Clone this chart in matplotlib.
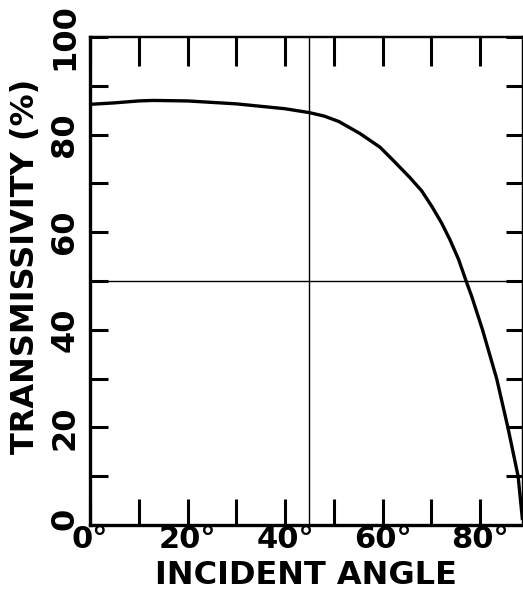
import matplotlib
matplotlib.use("Agg")
from matplotlib import pyplot as plt
from matplotlib.transforms import ScaledTranslation

angle = [0, 5, 10, 13, 20, 25, 30, 34, 40, 45, 48, 51, 55.4, 59.5, 62.2,
         65.6, 68, 70.1, 72.1, 73.8, 75.6, 77.1, 78.3, 80.5, 83.4, 85.7,
         87.8, 88.7]
transmissivity = [86.2, 86.5, 86.9, 87.0, 86.9, 86.6, 86.3, 85.9, 85.3, 84.5,
                  83.8, 82.7, 80.2, 77.4, 74.7, 71.2, 68.5, 65.3, 61.9, 58.5,
                  54.4, 50.1, 46.8, 40.0, 30.0, 20.0, 10.0, 1.0]

x_ticks = [0, 10, 20, 30, 40, 50, 60, 70, 80]
x_labels = ["0°", "", "20°", "", "40°", "", "60°", "", "80°"]
y_ticks = [0, 10, 20, 30, 40, 50, 60, 70, 80, 90, 100]
y_labels = ["0", "", "20", "", "40", "", "60", "", "80", "", "100"]

plt.rcParams["font.family"] = ["DejaVu Sans"]
plt.rcParams["font.weight"] = "bold"

fig = plt.figure(figsize=(5.23, 5.94), dpi=100)
ax = fig.add_axes([90 / 523, 69 / 594, 432.5 / 523, 488 / 594])

ax.plot(angle, transmissivity, color="black", linewidth=2.4,
        solid_joinstyle="round", solid_capstyle="butt")
ax.axvline(45, color="black", linewidth=1.0)
ax.axhline(50, color="black", linewidth=1.0)

ax.set_xlim(0, 88.7)
ax.set_ylim(0, 100)

ax.set_xticks(x_ticks)
ax.set_xticklabels(x_labels, fontsize=22, fontweight="bold")
ax.set_yticks(y_ticks)
ax.set_yticklabels(y_labels, fontsize=23, fontweight="bold",
                   rotation=90, va="center")

ax.tick_params(axis="x", direction="in", length=19, width=2.2, pad=0)
ax.tick_params(axis="y", direction="in", length=13, width=2.2, pad=7)

# the two zero labels nearly touch in the corner; keep them apart
zero_label = ax.get_yticklabels()[0]
zero_label.set_transform(zero_label.get_transform()
                         + ScaledTranslation(0, 6 / 100, fig.dpi_scale_trans))

for side in ["left", "bottom"]:
    ax.spines[side].set_linewidth(2.4)
for side in ["top", "right"]:
    ax.spines[side].set_linewidth(1.6)

top = ax.secondary_xaxis("top")
top.set_xticks(x_ticks)
top.tick_params(direction="in", length=21, width=2.2, labeltop=False)
top.spines["top"].set_linewidth(1.6)

right = ax.secondary_yaxis("right")
right.set_yticks(y_ticks)
right.tick_params(direction="in", length=12, width=2.2, labelright=False)
right.spines["right"].set_linewidth(1.6)

ax.set_xlabel("INCIDENT ANGLE", fontsize=23, fontweight="bold", labelpad=4)
ax.set_ylabel("TRANSMISSIVITY (%)", fontsize=23, fontweight="bold")
ax.yaxis.set_label_coords(-0.113, 0.529)

fig.savefig("out.png", dpi=100)
